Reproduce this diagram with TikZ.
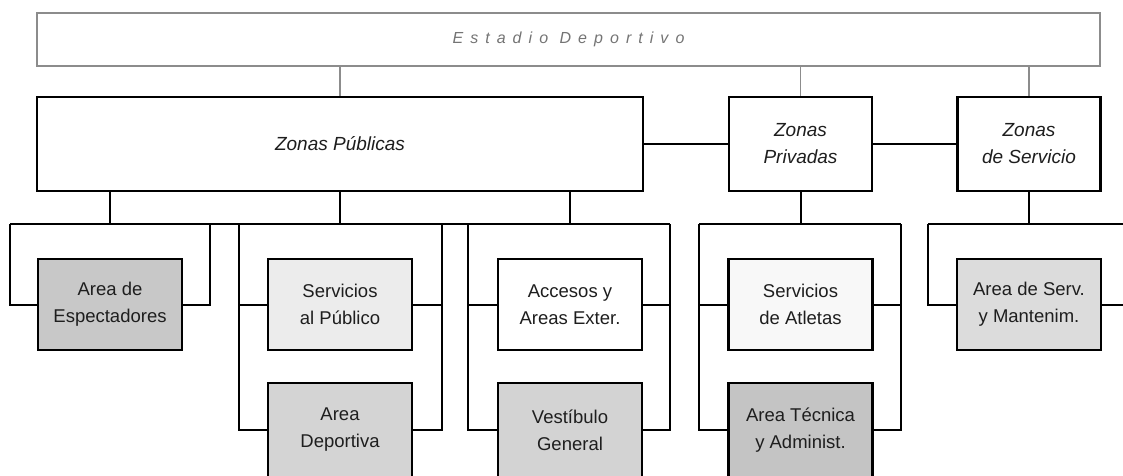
\documentclass[tikz,border=0pt]{standalone}
\usepackage{fontspec}
\setmainfont{Liberation Sans}
\newfontfamily\titlefont[LetterSpace=44]{Liberation Sans}
\definecolor{txt}{HTML}{1E1E1E}
\definecolor{graytxt}{HTML}{747474}
\definecolor{grayline}{HTML}{8C8C8C}
\definecolor{fEsp}{HTML}{C8C8C8}
\definecolor{fSp}{HTML}{ECECEC}
\definecolor{fAd}{HTML}{D4D4D4}
\definecolor{fAcc}{HTML}{FFFFFF}
\definecolor{fVes}{HTML}{D3D3D3}
\definecolor{fAtl}{HTML}{F8F8F8}
\definecolor{fTec}{HTML}{C4C4C4}
\definecolor{fAs}{HTML}{DCDCDC}
\begin{document}
\begin{tikzpicture}[x=1pt,y=-1pt,
  topbox/.style={draw=grayline,line width=1.6pt,inner sep=0pt,minimum width=1063pt,minimum height=53pt,text=graytxt,font=\titlefont\fontsize{16}{18}\selectfont\itshape},
  zone/.style={draw=black,line width=2.2pt,inner sep=0pt,minimum width=143pt,minimum height=94pt,align=center,text=txt,font=\fontsize{19}{27}\selectfont\itshape},
  subbox/.style={draw=black,line width=2.2pt,inner sep=0pt,minimum width=144pt,minimum height=91pt,align=center,text=txt,font=\fontsize{18.5}{27}\selectfont},
  lowbox/.style={subbox,minimum height=94pt},
  gline/.style={draw=grayline,line width=1.6pt},
  bline/.style={draw=black,line width=2pt}]
\clip (0,0) rectangle (1123,475);
\fill[white] (0,0) rectangle (1123,475);
% top
\node[topbox] (top) at (568.5,39.5) {Estadio Deportivo};
% zones
\node[zone,minimum width=606pt] (zp) at (340,144) {Zonas Públicas};
\node[zone] (zpriv) at (800.5,144) {Zonas\\Privadas};
\node[zone] (zserv) at (1029,144) {Zonas\\de Servicio};
% sub boxes
\node[subbox,fill=fEsp] (esp) at (110,304.5) {Area de\\Espectadores};
\node[subbox,fill=fSp] (sp) at (340,304.5) {Servicios\\al Público};
\node[lowbox,fill=fAd] (ad) at (340,430) {Area\\Deportiva};
\node[subbox,fill=fAcc] (acc) at (570,304.5) {Accesos y\\Areas Exter.};
\node[lowbox,fill=fVes] (ves) at (570,430) {Vestíbulo\\General};
\node[subbox,fill=fAtl] (atl) at (800.5,304.5) {Servicios\\de Atletas};
\node[lowbox,fill=fTec] (tec) at (800.5,430) {Area Técnica\\y Administ.};
\node[subbox,fill=fAs] (as) at (1029,304.5) {Area de Serv.\\y Mantenim.};
% top connectors
\draw[gline] (top.south -| zp) -- (zp.north);
\draw[gline] (top.south -| zpriv) -- (zpriv.north);
\draw[gline] (top.south -| zserv) -- (zserv.north);
\draw[bline] (zp.east) -- (zpriv.west);
\draw[bline] (zpriv.east) -- (zserv.west);
% bus coordinates
\coordinate (aL) at (10,224);
\coordinate (aR) at (210,224);
\coordinate (bL) at (239,224);
\coordinate (bR) at (442,224);
\coordinate (cL) at (468,224);
\coordinate (cR) at (670,224);
\coordinate (dL) at (699,224);
\coordinate (dR) at (901,224);
\coordinate (eL) at (928,224);
\coordinate (eR) at (1150,224);
% public zones bus
\draw[bline] (aL) -- (cR);
\draw[bline] (zp.south -| esp) -- (esp |- aL);
\draw[bline] (zp.south) -- (zp.south |- aL);
\draw[bline] (zp.south -| acc) -- (acc |- aL);
\draw[bline] (esp.west) -| (aL);
\draw[bline] (esp.east) -| (aR);
\draw[bline] (sp.west) -- (sp.west -| bL);
\draw[bline] (ad.west) -| (bL);
\draw[bline] (sp.east) -- (sp.east -| bR);
\draw[bline] (ad.east) -| (bR);
\draw[bline] (acc.west) -- (acc.west -| cL);
\draw[bline] (ves.west) -| (cL);
\draw[bline] (acc.east) -- (acc.east -| cR);
\draw[bline] (ves.east) -| (cR);
% private zones
\draw[bline] (dL) -- (dR);
\draw[bline] (zpriv.south) -- (zpriv.south |- dL);
\draw[bline] (atl.west) -- (atl.west -| dL);
\draw[bline] (tec.west) -| (dL);
\draw[bline] (atl.east) -- (atl.east -| dR);
\draw[bline] (tec.east) -| (dR);
% service zones
\draw[bline] (eL) -- (eR);
\draw[bline] (zserv.south) -- (zserv.south |- eL);
\draw[bline] (as.west) -| (eL);
\draw[bline] (as.east) -| (eR);
\end{tikzpicture}
\end{document}
